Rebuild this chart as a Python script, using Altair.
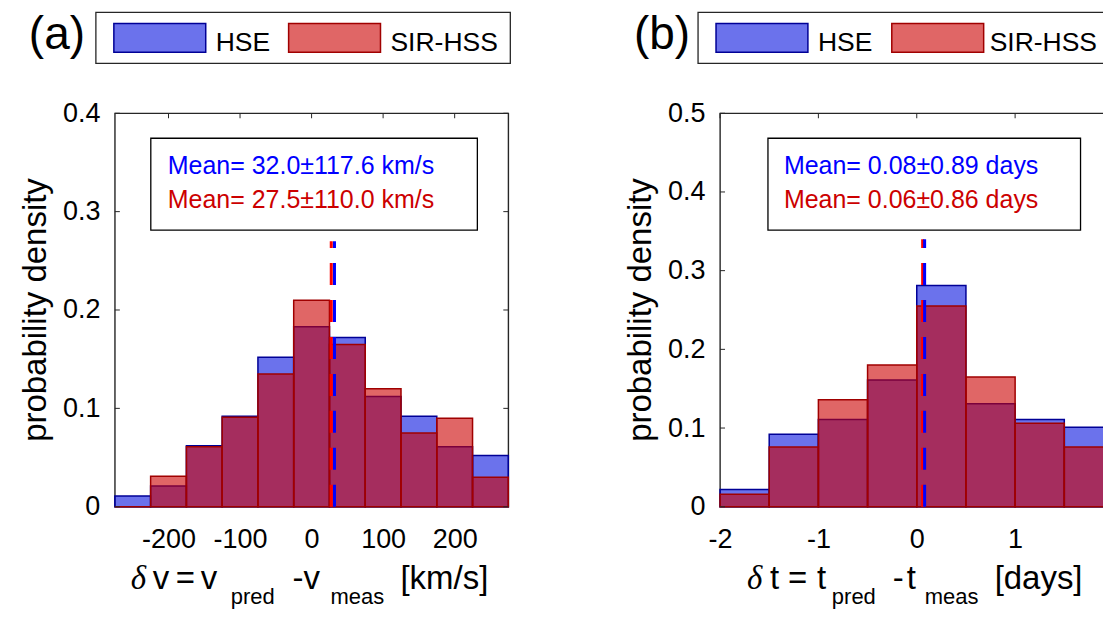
import altair as alt
import pandas as pd

# ---------------- data ----------------
v_edges = [-275, -225, -175, -125, -75, -25, 25, 75, 125, 175, 225, 275]
v_hse = [0.011, 0.021, 0.062, 0.092, 0.152, 0.183, 0.172, 0.112, 0.092, 0.061, 0.052]
v_sir = [0.000, 0.031, 0.061, 0.091, 0.135, 0.210, 0.165, 0.120, 0.075, 0.090, 0.030]
v_mean_hse = 32.0
v_mean_sir = 27.5
v_line_top = 0.27
v_xticks = [-200, -100, 0, 100, 200]
v_yticks = [0, 0.1, 0.2, 0.3, 0.4]

t_edges = [-2, -1.5, -1, -0.5, 0, 0.5, 1, 1.5, 2]
t_hse = [0.022, 0.092, 0.111, 0.161, 0.281, 0.131, 0.111, 0.101]
t_sir = [0.016, 0.076, 0.136, 0.180, 0.255, 0.165, 0.106, 0.076]
t_mean_hse = 0.08
t_mean_sir = 0.06
t_line_top = 0.34
t_xticks = [-2, -1, 0, 1, 2]
t_yticks = [0, 0.1, 0.2, 0.3, 0.4, 0.5]

series_names = ["HSE", "SIR-HSS"]
ann_v = ["Mean= 32.0\u00b1117.6 km/s", "Mean= 27.5\u00b1110.0 km/s"]
ann_t = ["Mean= 0.08\u00b10.89 days", "Mean= 0.06\u00b10.86 days"]

# ---------------- style ----------------
SANS = "Liberation Sans"
SERIF = "Liberation Serif"
BLUE = "#0814e0"
RED = "#cc0000"
BLUE_EDGE = "#000096"
RED_EDGE = "#a00000"
FRAME = "#262626"
W = 394
H = 394

one = pd.DataFrame({"k": [0]})


def T(s, x, y, size, color="#000000", align="left", baseline="alphabetic",
      angle=0, font=SANS, style="normal"):
    kw = dict(text=s, align=align, baseline=baseline, fontSize=size, font=font, color=color)
    if angle:
        kw["angle"] = angle
    if style != "normal":
        kw["fontStyle"] = style
    return alt.Chart(one).mark_text(**kw).encode(x=alt.value(x), y=alt.value(y))


def R(x1, x2, y1, y2, fill, stroke, sw, fo=1.0):
    return alt.Chart(one).mark_rect(fill=fill, fillOpacity=fo, stroke=stroke, strokeWidth=sw).encode(
        x=alt.value(x1), x2=alt.value(x2), y=alt.value(y1), y2=alt.value(y2))


def anchor(x1, x2, y):
    # invisible element that fixes the outer bounds of the drawing
    return alt.Chart(one).mark_rule(opacity=0, strokeWidth=1).encode(
        x=alt.value(x1), x2=alt.value(x2), y=alt.value(y))


def panel(edges, hse, sir, m_hse, m_sir, top, xdom, ydom, xticks, yticks, label,
          ann, ann_box, ann_x, leg, xtitle, extra):
    df = pd.DataFrame({"start": edges[:-1], "end": edges[1:], "hse": hse, "sir": sir,
                       "zero": [0] * len(hse)})
    xs = alt.Scale(domain=xdom, nice=False, zero=False)
    ys = alt.Scale(domain=ydom, nice=False, zero=False)
    xax = alt.Axis(values=xticks, ticks=False, domain=False, grid=False, labelFontSize=27,
                   labelFont=SANS, labelColor="#000000", labelPadding=20, labelOverlap=False,
                   labelFlush=False, labelExpr="datum.value")
    yax = alt.Axis(values=yticks, ticks=False, domain=False, grid=False, labelFontSize=27,
                   labelFont=SANS, labelColor="#000000", labelPadding=15, labelOverlap=False,
                   labelFlush=False,
                   labelExpr="datum.value == 0 ? '0' : format(datum.value, '.1f')")

    blue = alt.Chart(df).mark_rect(fill=BLUE, fillOpacity=0.6, stroke=BLUE_EDGE, strokeWidth=1.5).encode(
        x=alt.X("start:Q", scale=xs, axis=xax, title=None),
        x2="end:Q",
        y=alt.Y("hse:Q", scale=ys, axis=yax, title=None),
        y2="zero:Q")
    red = alt.Chart(df).mark_rect(fill=RED, fillOpacity=0.6, stroke=RED_EDGE, strokeWidth=1.5).encode(
        x=alt.X("start:Q", title=None), x2="end:Q",
        y=alt.Y("sir:Q", title=None), y2="zero:Q")

    mdf_r = pd.DataFrame({"m": [m_sir], "y0": [0], "top": [top]})
    mdf_b = pd.DataFrame({"m": [m_hse], "y0": [0], "top": [top]})
    rule_r = alt.Chart(mdf_r).mark_rule(color="#ff0000", strokeWidth=3, strokeDash=[22, 15]).encode(
        x=alt.X("m:Q", title=None), y=alt.Y("y0:Q", title=None), y2="top:Q")
    rule_b = alt.Chart(mdf_b).mark_rule(color="#0000ff", strokeWidth=3, strokeDash=[22, 15]).encode(
        x=alt.X("m:Q", title=None), y=alt.Y("y0:Q", title=None), y2="top:Q")

    xt = pd.DataFrame({"v": xticks})
    yt = pd.DataFrame({"v": yticks})
    tick_top = alt.Chart(xt).mark_rule(color=FRAME, strokeWidth=1).encode(
        x=alt.X("v:Q", title=None), y=alt.value(0), y2=alt.value(5))
    tick_left = alt.Chart(yt).mark_rule(color=FRAME, strokeWidth=1).encode(
        y=alt.Y("v:Q", title=None), x=alt.value(0), x2=alt.value(5))
    tick_right = alt.Chart(yt).mark_rule(color=FRAME, strokeWidth=1).encode(
        y=alt.Y("v:Q", title=None), x=alt.value(W - 5), x2=alt.value(W))

    layers = [blue, red, rule_r, rule_b, tick_top, tick_left, tick_right]

    # annotation box
    bx1, bx2 = ann_box
    layers.append(R(bx1, bx2, 25, 117, "#ffffff", "#000000", 1.3))
    layers.append(T(ann[0], ann_x, 61, 25, color="#0000ff"))
    layers.append(T(ann[1], ann_x, 95, 25, color=RED))

    # legend above
    lx1, lx2, sb, sr, th, ts = leg
    layers.append(R(lx1, lx2, -101, -50, "#ffffff", FRAME, 1.3))
    layers.append(R(sb, sb + 92, -90, -61, BLUE, BLUE_EDGE, 1.5, 0.6))
    layers.append(R(sr, sr + 92, -90, -61, RED, RED_EDGE, 1.5, 0.6))
    layers.append(T(series_names[0], th, -62, 26.5))
    layers.append(T(series_names[1], ts, -62, 26.5))

    # panel label
    layers.append(T(label, -58, -64, 46, align="center"))

    # y title
    layers.append(T("probability density", -79, H / 2, 33, align="center", baseline="middle", angle=270))

    # x title pieces
    for s, x, kind in xtitle:
        if kind == "greek":
            layers.append(T(s, x, 476, 33, font=SERIF, style="italic"))
        elif kind == "sub":
            layers.append(T(s, x, 491, 22))
        else:
            layers.append(T(s, x, 476, 33))

    layers.extend(extra)
    return alt.layer(*layers).properties(width=W, height=H)


xt_a = [("\u03b4", 16, "greek"), ("v", 38, "m"), ("=", 61, "m"), ("v", 86, "m"),
        ("pred", 116, "sub"), ("-", 178, "m"), ("v", 189, "m"), ("meas", 216, "sub"),
        ("[km/s]", 286, "m")]
xt_b = [("\u03b4", 27, "greek"), ("t", 50, "m"), ("=", 68, "m"), ("t", 97, "m"),
        ("pred", 112, "sub"), ("-", 173, "m"), ("t", 187, "m"), ("meas", 205, "sub"),
        ("[days]", 275, "m")]

pa = panel(v_edges, v_hse, v_sir, v_mean_hse, v_mean_sir, v_line_top, [-275, 275], [0, 0.4],
           v_xticks, v_yticks, "(a)", ann_v, (36, 363), 53,
           (-19, 396, -1, 174, 101, 276), xt_a, [anchor(-105.5, -100, -103.5)])
pb = panel(t_edges, t_hse, t_sir, t_mean_hse, t_mean_sir, t_line_top, [-2, 2], [0, 0.5],
           t_xticks, t_yticks, "(b)", ann_t, (48, 361), 64,
           (-22, 390, -4, 172, 98, 270), xt_b, [anchor(400, 420, 520)])

# outer bounds: x -106 .. 1026.5, y -104 .. 520.5 ; crop to the 1111x617 window
chart = alt.hconcat(pa, pb, spacing=212, bounds="flush").properties(
    padding={"left": 0, "top": 0, "right": -37.5, "bottom": -24},
    background="#ffffff",
).configure_view(stroke=FRAME, strokeWidth=1.4)

chart.save("out.html", embed_options={"renderer": "svg", "actions": False})
